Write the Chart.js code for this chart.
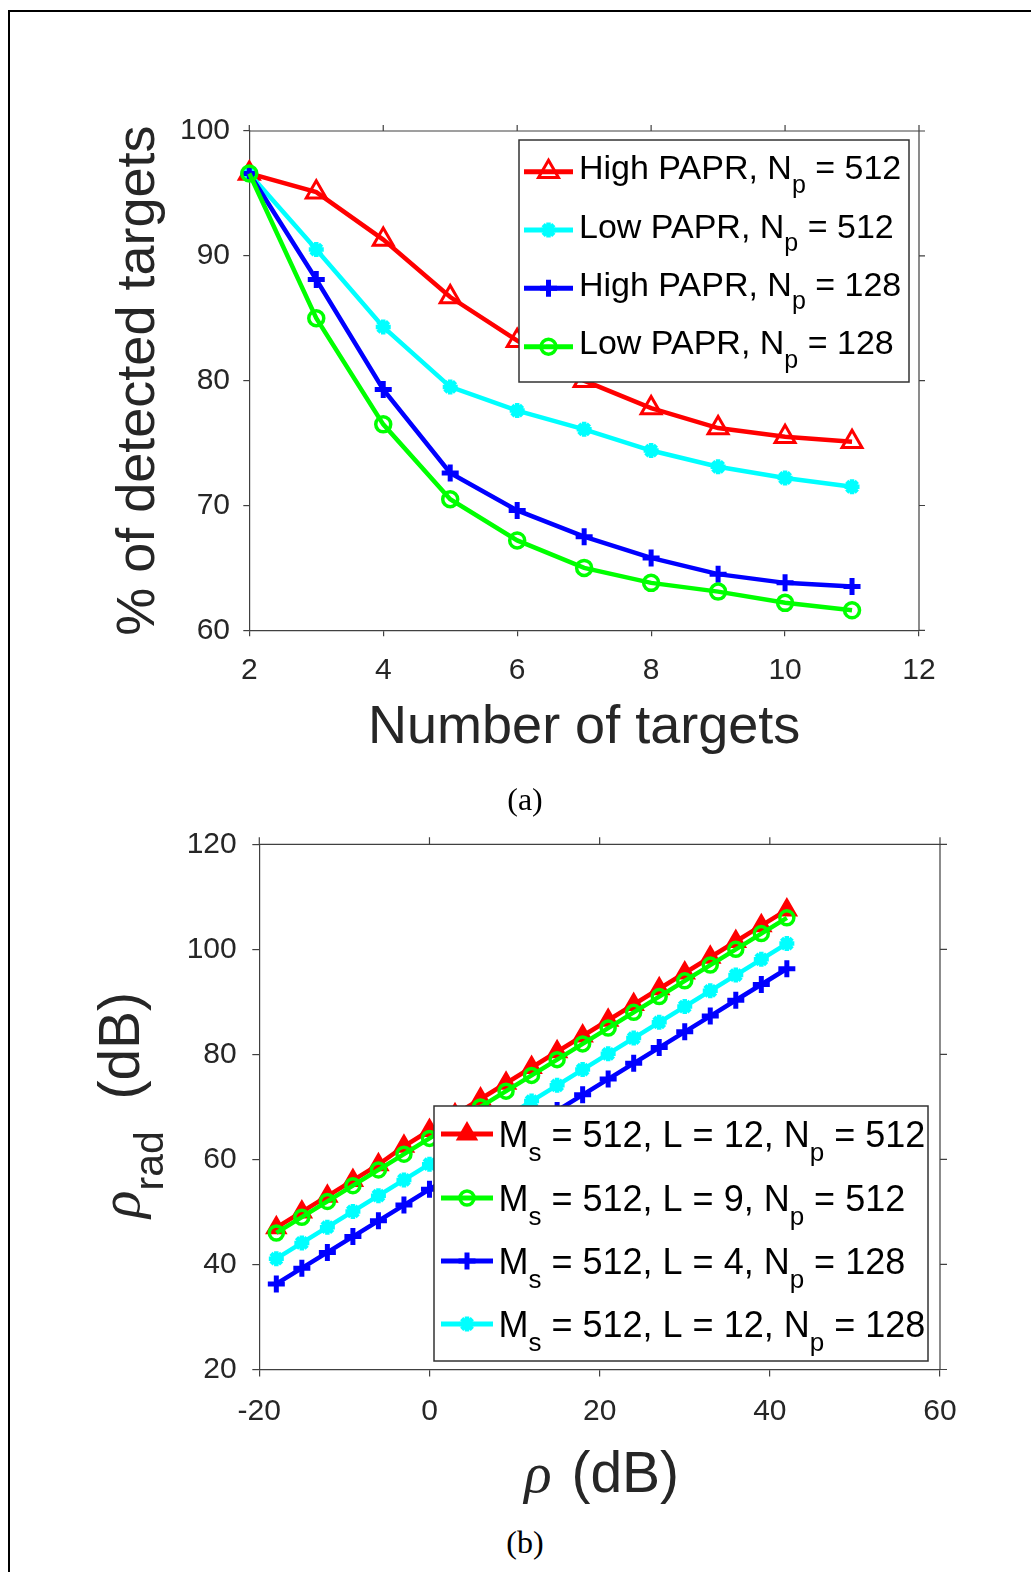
<!DOCTYPE html>
<html>
<head>
<meta charset="utf-8">
<script src="https://cdn.jsdelivr.net/npm/chart.js@4.4.1/dist/chart.umd.min.js"></script>
<style>
  body { margin: 0; background: #fff; width: 1031px; height: 1572px; overflow: hidden; position: relative; }
  #frame { position: absolute; left: 8px; top: 10px; width: 1100px; height: 1700px; border: 2px solid #000; }
  canvas { position: absolute; left: 0; }
  #chartA { top: 0; }
  #chartB { top: 790px; }
  .cap { position: absolute; font-family: "Liberation Serif", "Times New Roman", serif; font-size: 32px; line-height: 1; color: #000; transform: translate(-50%, -50%); }
</style>
</head>
<body>
<div id="frame"></div>
<canvas id="chartA" width="1031" height="780"></canvas>
<canvas id="chartB" width="1031" height="720"></canvas>
<div class="cap" style="left:525px; top:799px;">(a)</div>
<div class="cap" style="left:525px; top:1542px;">(b)</div>
<script>
// (a) % de blancos detectados frente al número de blancos
const targets = [2, 3, 4, 5, 6, 7, 8, 9, 10, 11];
const highPapr512 = [96.6, 95.1, 91.3, 86.7, 83.2, 80.0, 77.8, 76.2, 75.5, 75.1];
const lowPapr512  = [96.6, 90.5, 84.3, 79.5, 77.6, 76.1, 74.4, 73.1, 72.2, 71.5];
const highPapr128 = [96.6, 88.1, 79.3, 72.6, 69.6, 67.5, 65.8, 64.5, 63.8, 63.5];
const lowPapr128  = [96.6, 85.0, 76.5, 70.5, 67.2, 65.0, 63.8, 63.1, 62.2, 61.6];
const ticksTargets = [2, 4, 6, 8, 10, 12];
const ticksDetected = [60, 70, 80, 90, 100];

// (b) rho_rad frente a rho
const rhoDb = [-18, -15, -12, -9, -6, -3, 0, 3, 6, 9, 12, 15, 18, 21, 24, 27, 30, 33, 36, 39, 42];
const l12np512 = [47, 50, 53, 56, 59, 62.5, 65.5, 68.5, 71.5, 74.5, 77.5, 80.5, 83.5, 86.5, 89.5, 92.5, 95.5, 98.5, 101.5, 104.5, 107.5];
const l9np512  = [46, 49, 52, 55, 58, 61, 64, 67, 70, 73, 76, 79, 82, 85, 88, 91, 94, 97, 100, 103, 106];
const l4np128  = [36.3, 39.3, 42.3, 45.3, 48.3, 51.3, 54.3, 57.3, 60.3, 63.3, 66.3, 69.3, 72.3, 75.3, 78.3, 81.3, 84.3, 87.3, 90.3, 93.3, 96.3];
const l12np128 = [41.1, 44.1, 47.1, 50.1, 53.1, 56.1, 59.1, 62.1, 65.1, 68.1, 71.1, 74.1, 77.1, 80.1, 83.1, 86.1, 89.1, 92.1, 95.1, 98.1, 101.1];
const ticksRho = [-20, 0, 20, 40, 60];
const ticksRhoRad = [20, 40, 60, 80, 100, 120];

const FONT = '"Liberation Sans", Arial, Helvetica, sans-serif';
const SERIF = '"Liberation Serif", "Times New Roman", serif';
const TXT = '#262626';
const AXLINE = '#404040';
const NOFILL = 'rgba(0,0,0,0)';

// texto con subíndices
function richWidth(ctx, parts) {
    let w = 0;
    parts.forEach(p => { ctx.font = p.font; w += ctx.measureText(p.t).width + (p.gap || 0); });
    return w;
}
function drawRich(ctx, parts, x, y, rot) {
    ctx.save();
    ctx.translate(x, y);
    if (rot) ctx.rotate(rot);
    ctx.textAlign = 'left';
    ctx.textBaseline = 'alphabetic';
    let cx = 0;
    parts.forEach(p => {
        ctx.font = p.font;
        ctx.fillStyle = p.color || '#000';
        ctx.fillText(p.t, cx, p.dy || 0);
        cx += ctx.measureText(p.t).width + (p.gap || 0);
    });
    ctx.restore();
}

function series(label, xs, ys, color, style, radius, bw, fill, order, lw) {
    return {
        label: label,
        data: xs.map((x, i) => ({ x: x, y: ys[i] })),
        borderColor: color,
        borderWidth: lw,
        pointStyle: style,
        pointRadius: radius,
        pointBorderWidth: bw,
        pointBorderColor: color,
        pointBackgroundColor: fill,
        tension: 0,
        clip: false,
        order: order
    };
}

// caja del gráfico: borde superior/derecho con sus marcas
function framePlugin(len) {
    return {
        id: 'frame',
        afterDraw(chart) {
            const { ctx, chartArea: a, scales: { x, y } } = chart;
            ctx.save();
            ctx.strokeStyle = AXLINE;
            ctx.lineWidth = 1.2;
            ctx.beginPath();
            ctx.moveTo(a.left, a.top); ctx.lineTo(a.right, a.top); ctx.lineTo(a.right, a.bottom);
            x.ticks.forEach(t => { const px = x.getPixelForValue(t.value); ctx.moveTo(px, a.top); ctx.lineTo(px, a.top - len); });
            y.ticks.forEach(t => { const py = y.getPixelForValue(t.value); ctx.moveTo(a.right, py); ctx.lineTo(a.right + len, py); });
            ctx.stroke();
            ctx.restore();
        }
    };
}

// leyenda con subíndices
function legendPlugin(cfg) {
    return {
        id: 'legendBox',
        afterDraw(chart) {
            const ctx = chart.ctx;
            ctx.save();
            ctx.fillStyle = '#fff';
            ctx.fillRect(cfg.x, cfg.y, cfg.w, cfg.h);
            ctx.strokeStyle = '#333';
            ctx.lineWidth = 1.5;
            ctx.strokeRect(cfg.x, cfg.y, cfg.w, cfg.h);
            chart.data.datasets.forEach((ds, i) => {
                const ly = cfg.rows[i];
                ctx.strokeStyle = ds.borderColor;
                ctx.lineWidth = cfg.lineWidth;
                ctx.beginPath(); ctx.moveTo(cfg.x0, ly); ctx.lineTo(cfg.x1, ly); ctx.stroke();
                ctx.fillStyle = ds.pointBackgroundColor;
                ctx.strokeStyle = ds.pointBorderColor;
                ctx.lineWidth = ds.pointBorderWidth;
                Chart.helpers.drawPoint(ctx, { pointStyle: ds.pointStyle, radius: ds.pointRadius, borderWidth: ds.pointBorderWidth, rotation: 0 }, (cfg.x0 + cfg.x1) / 2, ly);
                const parts = cfg.labels[i].map(p => ({
                    t: p[0],
                    font: (p[1] ? cfg.subSize : cfg.size) + 'px ' + FONT,
                    dy: p[1] ? cfg.subDy : 0
                }));
                drawRich(ctx, parts, cfg.tx, ly + cfg.base, 0);
            });
            ctx.restore();
        }
    };
}

function linearAxis(ticks, fitSize, isX, tickLen, pad) {
    return {
        type: 'linear',
        min: ticks[0],
        max: ticks[ticks.length - 1],
        afterBuildTicks: s => { s.ticks = ticks.map(v => ({ value: v })); },
        afterFit: s => { if (isX) s.height = fitSize; else s.width = fitSize; },
        grid: { drawOnChartArea: false, drawTicks: true, tickLength: tickLen, color: AXLINE, lineWidth: 1.2 },
        border: { display: true, color: AXLINE, width: 1.2 },
        ticks: { font: { family: FONT, size: 30 }, color: TXT, padding: pad, autoSkip: false, maxRotation: 0, callback: v => String(v) }
    };
}

// ---- (a)
const axA_x = linearAxis(ticksTargets, 780 - 630.3, true, 6, 16.7);
axA_x.title = { display: true, text: 'Number of targets', color: TXT, font: { family: FONT, size: 54 }, padding: { top: 0, bottom: 19.6 } };
const axA_y = linearAxis(ticksDetected, 249.3, false, 6, 13.3);
axA_y.title = { display: true, text: '% of detected targets', color: TXT, font: { family: FONT, size: 54 }, padding: { top: 106.6, bottom: 0 } };

new Chart(document.getElementById('chartA'), {
    type: 'line',
    data: {
        datasets: [
            series('High PAPR, Np = 512', targets, highPapr512, '#ff0000', 'triangle', 11.5, 3, NOFILL, 3, 4.5),
            series('Low PAPR, Np = 512', targets, lowPapr512, '#00ffff', 'star', 7.5, 4.5, '#00ffff', 2, 4.5),
            series('High PAPR, Np = 128', targets, highPapr128, '#0000ff', 'cross', 8.5, 5, '#0000ff', 1, 4.5),
            series('Low PAPR, Np = 128', targets, lowPapr128, '#00ff00', 'circle', 7.5, 3.5, NOFILL, 0, 4.5)
        ]
    },
    options: {
        responsive: false,
        animation: false,
        events: [],
        layout: { padding: { top: 131, right: 112, left: 0, bottom: 0 } },
        plugins: { legend: { display: false }, tooltip: { enabled: false } },
        scales: { x: axA_x, y: axA_y }
    },
    plugins: [framePlugin(6), legendPlugin({
        x: 519, y: 140, w: 390, h: 242,
        rows: [171.7, 230, 288.3, 346.7],
        x0: 524, x1: 573, tx: 579, base: 7.6,
        size: 34, subSize: 25, subDy: 13.5, lineWidth: 5,
        labels: [
            [['High PAPR, N'], ['p', 1], [' = 512']],
            [['Low PAPR, N'], ['p', 1], [' = 512']],
            [['High PAPR, N'], ['p', 1], [' = 128']],
            [['Low PAPR, N'], ['p', 1], [' = 128']]
        ]
    })]
});

// ---- (b)
const axB_x = linearAxis(ticksRho, 720 - 579.5, true, 7, 16.9);
const axB_y = linearAxis(ticksRhoRad, 259.3, false, 7, 15.6);

const titlesB = {
    id: 'titlesB',
    afterDraw(chart) {
        const { ctx, chartArea: a } = chart;
        const big = '57px ' + FONT;
        const rho = 'italic 57px ' + SERIF;
        const xParts = [{ t: 'ρ', font: rho, color: TXT, gap: 4 }, { t: ' (dB)', font: big, color: TXT }];
        const w = richWidth(ctx, xParts);
        drawRich(ctx, xParts, (a.left + a.right) / 2 - w / 2 + 2, a.bottom + 122, 0);
        const yParts = [
            { t: 'ρ', font: rho, color: TXT },
            { t: 'rad', font: '41px ' + FONT, color: TXT, dy: 24 },
            { t: '  (dB)', font: big, color: TXT }
        ];
        const h = richWidth(ctx, yParts);
        drawRich(ctx, yParts, 139.3, (a.top + a.bottom) / 2 + h / 2 - 2, -Math.PI / 2);
    }
};

new Chart(document.getElementById('chartB'), {
    type: 'line',
    data: {
        datasets: [
            series('Ms = 512, L = 12, Np = 512', rhoDb, l12np512, '#ff0000', 'triangle', 10, 3, '#ff0000', 3, 4.5),
            series('Ms = 512, L = 9, Np = 512', rhoDb, l9np512, '#00ff00', 'circle', 7, 3.5, NOFILL, 2, 4.5),
            series('Ms = 512, L = 4, Np = 128', rhoDb, l4np128, '#0000ff', 'cross', 8.5, 5, '#0000ff', 1, 4.5),
            series('Ms = 512, L = 12, Np = 128', rhoDb, l12np128, '#00ffff', 'star', 7.5, 4.5, '#00ffff', 0, 4.5)
        ]
    },
    options: {
        responsive: false,
        animation: false,
        events: [],
        layout: { padding: { top: 54.3, right: 91, left: 0, bottom: 0 } },
        plugins: { legend: { display: false }, tooltip: { enabled: false } },
        scales: { x: axB_x, y: axB_y }
    },
    plugins: [framePlugin(7), titlesB, legendPlugin({
        x: 434, y: 316, w: 494, h: 255,
        rows: [344, 408, 471, 534],
        x0: 441, x1: 493, tx: 498.5, base: 13,
        size: 36, subSize: 26, subDy: 14, lineWidth: 5,
        labels: [
            [['M'], ['s', 1], [' = 512, L = 12, N'], ['p', 1], [' = 512']],
            [['M'], ['s', 1], [' = 512, L = 9, N'], ['p', 1], [' = 512']],
            [['M'], ['s', 1], [' = 512, L = 4, N'], ['p', 1], [' = 128']],
            [['M'], ['s', 1], [' = 512, L = 12, N'], ['p', 1], [' = 128']]
        ]
    })]
});
</script>
</body>
</html>
